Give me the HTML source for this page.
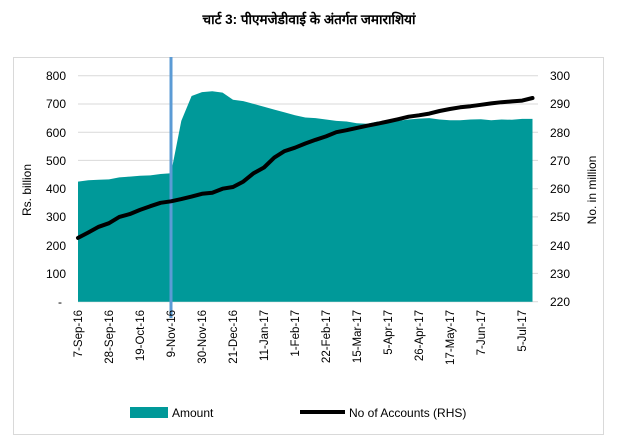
<!DOCTYPE html>
<html><head><meta charset="utf-8"><style>
html,body{margin:0;padding:0;background:#fff;}
svg{display:block;font-family:"Liberation Sans",sans-serif;}
</style></head><body>
<svg width="618" height="446" viewBox="0 0 618 446" xmlns="http://www.w3.org/2000/svg">
<rect x="0" y="0" width="618" height="446" fill="#fff"/>
<text x="309" y="24" text-anchor="middle" font-size="13.5" font-weight="bold" fill="#000">चार्ट 3: पीएमजेडीवाई के अंतर्गत जमाराशियां</text>
<rect x="13.5" y="57.5" width="590" height="377" fill="none" stroke="#d9d9d9"/>
<g stroke="#d9d9d9" stroke-width="1">
<line x1="78" x2="538" y1="75.7" y2="75.7"/><line x1="78" x2="538" y1="104" y2="104"/>
<line x1="78" x2="538" y1="132.2" y2="132.2"/><line x1="78" x2="538" y1="160.4" y2="160.4"/>
<line x1="78" x2="538" y1="188.7" y2="188.7"/><line x1="78" x2="538" y1="216.9" y2="216.9"/>
<line x1="78" x2="538" y1="245.2" y2="245.2"/><line x1="78" x2="538" y1="273.4" y2="273.4"/>
<line x1="78" x2="538" y1="301.7" y2="301.7"/>
</g>
<polygon fill="#009999" points="78,301.7 78,181.6 88.3,180.2 98.7,179.7 109,179.4 119.3,177.4 129.7,176.6 140,175.7 150.3,175.4 160.6,174 171,173.2 181.3,120.9 191.6,96 202,92.1 212.3,91.2 222.6,92.6 233,99.7 243.3,101.1 253.6,103.9 264,106.8 274.3,109.6 284.6,112.4 295,115.3 305.3,117.5 315.6,118.1 326,119.5 336.3,120.9 346.6,121.5 356.9,123.2 367.3,123.7 377.6,121.5 387.9,122.3 398.3,120.9 408.6,119.5 418.9,118.6 429.3,118.1 439.6,119.5 449.9,120.3 460.2,120.3 470.6,119.5 480.9,119.2 491.2,120.3 501.6,119.5 511.9,119.8 522.2,118.9 532.5,118.9 532.5,301.7"/>
<line x1="171" y1="57" x2="171" y2="318" stroke="#5b9bd5" stroke-width="3"/>
<polyline fill="none" stroke="#000" stroke-width="4" stroke-linejoin="round" stroke-linecap="round" points="78,237.9 88.3,232.5 98.7,226.8 109,223.2 119.3,216.9 129.7,214.1 140,209.9 150.3,206.2 160.6,202.8 171,201.3 181.3,199.1 191.6,196.6 202,193.8 212.3,192.7 222.6,188.7 233,187 243.3,181.6 253.6,173.2 264,167.5 274.3,157.6 284.6,151.1 295,147.7 305.3,143.5 315.6,139.8 326,136.4 336.3,132.2 346.6,130.2 356.9,127.9 367.3,125.7 377.6,123.7 387.9,121.5 398.3,119.2 408.6,116.7 418.9,115.3 429.3,113.6 439.6,111 449.9,109 460.2,107.3 470.6,106.2 480.9,104.8 491.2,103.4 501.6,102.2 511.9,101.4 522.2,100.6 532.5,98"/>
<g font-size="12" fill="#000" text-anchor="end">
<text x="66" y="80">800</text><text x="66" y="108">700</text><text x="66" y="137">600</text>
<text x="66" y="165">500</text><text x="66" y="193">400</text><text x="66" y="221">300</text>
<text x="66" y="250">200</text><text x="66" y="278">100</text><text x="62" y="306">-</text>
</g>
<g font-size="12" fill="#000">
<text x="550" y="80">300</text><text x="550" y="108">290</text><text x="550" y="137">280</text>
<text x="550" y="165">270</text><text x="550" y="193">260</text><text x="550" y="221">250</text>
<text x="550" y="250">240</text><text x="550" y="278">230</text><text x="550" y="306">220</text>
</g>
<text transform="translate(31,190) rotate(-90)" text-anchor="middle" font-size="12">Rs. billion</text>
<text transform="translate(596,190) rotate(-90)" text-anchor="middle" font-size="12">No. in million</text>
<g font-size="11.5" fill="#000" text-anchor="end">
<text transform="translate(82,310) rotate(-90)">7-Sep-16</text>
<text transform="translate(113,310) rotate(-90)">28-Sep-16</text>
<text transform="translate(144,310) rotate(-90)">19-Oct-16</text>
<text transform="translate(175,310) rotate(-90)">9-Nov-16</text>
<text transform="translate(206,310) rotate(-90)">30-Nov-16</text>
<text transform="translate(237,310) rotate(-90)">21-Dec-16</text>
<text transform="translate(268,310) rotate(-90)">11-Jan-17</text>
<text transform="translate(299,310) rotate(-90)">1-Feb-17</text>
<text transform="translate(330,310) rotate(-90)">22-Feb-17</text>
<text transform="translate(361,310) rotate(-90)">15-Mar-17</text>
<text transform="translate(392,310) rotate(-90)">5-Apr-17</text>
<text transform="translate(423,310) rotate(-90)">26-Apr-17</text>
<text transform="translate(454,310) rotate(-90)">17-May-17</text>
<text transform="translate(485,310) rotate(-90)">7-Jun-17</text>
<text transform="translate(526,310) rotate(-90)">5-Jul-17</text>
</g>
<rect x="130" y="407" width="38" height="11" fill="#009999"/>
<text x="172" y="417" font-size="12">Amount</text>
<line x1="300" y1="412" x2="345" y2="412" stroke="#000" stroke-width="4"/>
<text x="349" y="417" font-size="12">No of Accounts (RHS)</text>
</svg>
</body></html>
